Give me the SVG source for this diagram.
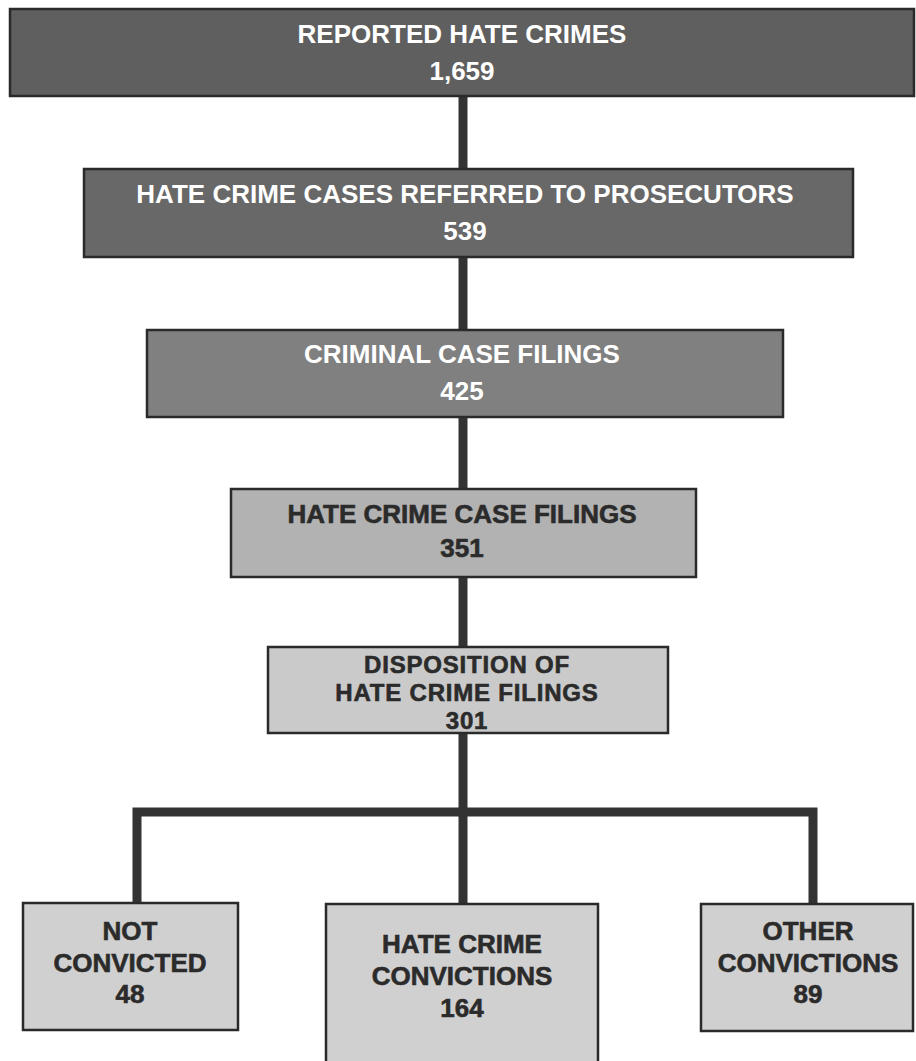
<svg xmlns="http://www.w3.org/2000/svg" width="916" height="1061" viewBox="0 0 916 1061">
<style>
.box{stroke:#2a2a2a;stroke-width:2.5}
.t{font-family:"Liberation Sans",Arial,sans-serif;font-weight:bold;font-size:26px;text-anchor:middle}
.w{fill:#ffffff}
.d{fill:#2b2b2b;stroke:#2b2b2b;stroke-width:0.6}
.s{font-size:24px;letter-spacing:0.8px}
.c{stroke:#333333;stroke-width:9;fill:none;stroke-linecap:square}
</style>
<rect width="916" height="1061" fill="#ffffff"/>
<g id="connectors">
<line class="c" x1="463" y1="96" x2="463" y2="169"/>
<line class="c" x1="463" y1="257" x2="463" y2="330"/>
<line class="c" x1="463" y1="417" x2="463" y2="489"/>
<line class="c" x1="463" y1="577" x2="463" y2="647"/>
<line class="c" x1="463" y1="733" x2="463" y2="904"/>
<polyline class="c" points="137,903 137,812 813,812 813,903" style="stroke-linecap:butt;stroke-linejoin:miter"/>
</g>
<g id="n1">
<rect class="box" x="10" y="9" width="904" height="87" fill="#5f5f5f"/>
<text class="t w" x="462" y="43" font-size="25">REPORTED HATE CRIMES</text>
<text class="t w" x="462" y="80" font-size="25">1,659</text>
</g>
<g id="n2">
<rect class="box" x="84" y="169" width="769" height="88" fill="#686868"/>
<text class="t w" x="465" y="203">HATE CRIME CASES REFERRED TO PROSECUTORS</text>
<text class="t w" x="465" y="240">539</text>
</g>
<g id="n3">
<rect class="box" x="147" y="330" width="636" height="87" fill="#808080"/>
<text class="t w" x="462" y="363">CRIMINAL CASE FILINGS</text>
<text class="t w" x="462" y="400">425</text>
</g>
<g id="n4">
<rect class="box" x="231" y="489" width="465" height="88" fill="#b2b2b2"/>
<text class="t d" x="462" y="523">HATE CRIME CASE FILINGS</text>
<text class="t d" x="462" y="557">351</text>
</g>
<g id="n5">
<rect class="box" x="268" y="647" width="400" height="86" fill="#cacaca"/>
<text class="t d s" x="467" y="673">DISPOSITION OF</text>
<text class="t d s" x="467" y="701">HATE CRIME FILINGS</text>
<text class="t d s" x="467" y="729">301</text>
</g>
<g id="n6">
<rect class="box" x="23" y="903" width="215" height="127" fill="#d0d0d0"/>
<text class="t d" x="130" y="940">NOT</text>
<text class="t d" x="130" y="972">CONVICTED</text>
<text class="t d" x="130" y="1003">48</text>
</g>
<g id="n7">
<rect class="box" x="326" y="904" width="272" height="160" fill="#d0d0d0"/>
<text class="t d" x="462" y="953">HATE CRIME</text>
<text class="t d" x="462" y="985">CONVICTIONS</text>
<text class="t d" x="462" y="1017">164</text>
</g>
<g id="n8">
<rect class="box" x="701" y="904" width="212" height="127" fill="#d0d0d0"/>
<text class="t d" x="808" y="940">OTHER</text>
<text class="t d" x="808" y="972">CONVICTIONS</text>
<text class="t d" x="808" y="1003">89</text>
</g>
</svg>
